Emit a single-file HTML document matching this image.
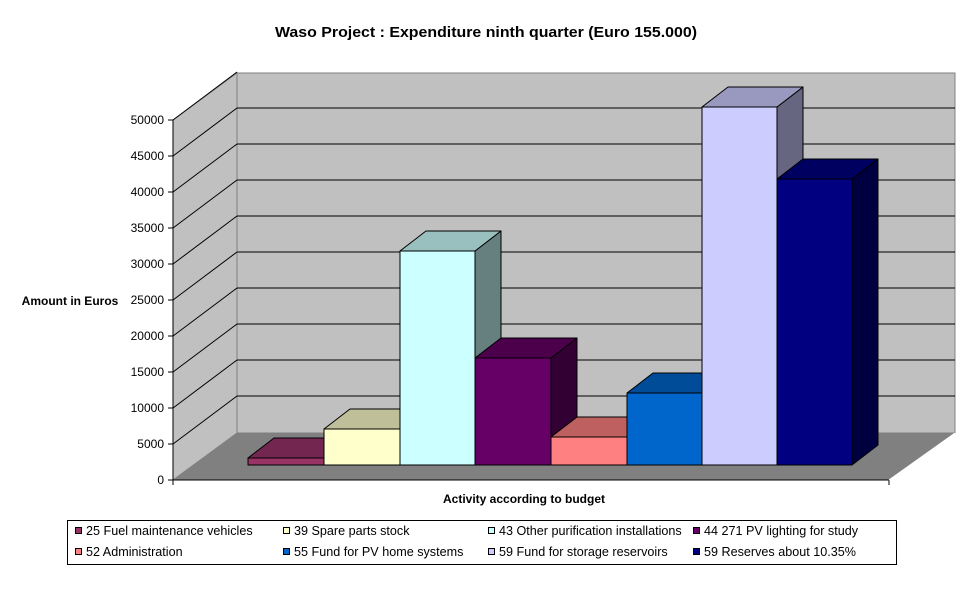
<!DOCTYPE html>
<html><head><style>body{margin:0;background:#fff}</style></head><body>
<svg width="970" height="604" xmlns="http://www.w3.org/2000/svg" font-family="Liberation Sans, Arial, sans-serif">
<rect width="970" height="604" fill="#fff"/>
<text x="486" y="37" text-anchor="middle" font-size="15" font-weight="bold" textLength="422" lengthAdjust="spacingAndGlyphs">Waso Project : Expenditure ninth quarter (Euro 155.000)</text>
<polygon points="237,73 955,73 955,433 237,433" fill="#c0c0c0" stroke="#808080"/>
<polygon points="173,120 237,73 237,433 173,480" fill="#c0c0c0" stroke="#808080"/>
<polygon points="173,480 237,433 955,433 889,480" fill="#808080"/>
<g stroke="#000" stroke-width="1">
<line x1="237" y1="108" x2="955" y2="108"/><line x1="173" y1="156" x2="237" y2="108"/>
<line x1="237" y1="144" x2="955" y2="144"/><line x1="173" y1="192" x2="237" y2="144"/>
<line x1="237" y1="180" x2="955" y2="180"/><line x1="173" y1="228" x2="237" y2="180"/>
<line x1="237" y1="216" x2="955" y2="216"/><line x1="173" y1="264" x2="237" y2="216"/>
<line x1="237" y1="252" x2="955" y2="252"/><line x1="173" y1="300" x2="237" y2="252"/>
<line x1="237" y1="288" x2="955" y2="288"/><line x1="173" y1="336" x2="237" y2="288"/>
<line x1="237" y1="324" x2="955" y2="324"/><line x1="173" y1="372" x2="237" y2="324"/>
<line x1="237" y1="360" x2="955" y2="360"/><line x1="173" y1="408" x2="237" y2="360"/>
<line x1="237" y1="396" x2="955" y2="396"/><line x1="173" y1="444" x2="237" y2="396"/>
<line x1="173" y1="120" x2="237" y2="72"/>
<line x1="173" y1="120" x2="173" y2="485"/>
<line x1="173" y1="480" x2="889" y2="480"/>
<line x1="889" y1="480" x2="889" y2="485"/>
<line x1="889" y1="480" x2="955" y2="433" stroke="#fff"/>
</g>
<g stroke="#000" stroke-width="1">
<line x1="168" y1="120" x2="173" y2="120"/><line x1="168" y1="156" x2="173" y2="156"/><line x1="168" y1="192" x2="173" y2="192"/><line x1="168" y1="228" x2="173" y2="228"/><line x1="168" y1="264" x2="173" y2="264"/><line x1="168" y1="300" x2="173" y2="300"/><line x1="168" y1="336" x2="173" y2="336"/><line x1="168" y1="372" x2="173" y2="372"/><line x1="168" y1="408" x2="173" y2="408"/><line x1="168" y1="444" x2="173" y2="444"/><line x1="168" y1="480" x2="173" y2="480"/>
</g>
<g font-size="12" text-anchor="end">
<text x="164" y="124">50000</text><text x="164" y="160">45000</text><text x="164" y="196">40000</text><text x="164" y="232">35000</text><text x="164" y="268">30000</text><text x="164" y="304">25000</text><text x="164" y="340">20000</text><text x="164" y="376">15000</text><text x="164" y="412">10000</text><text x="164" y="448">5000</text><text x="164" y="484">0</text>
</g>
<text x="70" y="305" text-anchor="middle" font-size="12" font-weight="bold">Amount in Euros</text>
<text x="524" y="503" text-anchor="middle" font-size="12" font-weight="bold">Activity according to budget</text>
<g stroke="#000" stroke-width="1" stroke-linejoin="round">
<polygon points="324,458 350,438 350,445 324,465" fill="#4c1933"/>
<polygon points="248,458 274,438 350,438 324,458" fill="#732650"/>
<rect x="248" y="458" width="76" height="7" fill="#993366"/>
<polygon points="400,429 426,409 426,445 400,465" fill="#808066"/>
<polygon points="324,429 350,409 426,409 400,429" fill="#bfbf99"/>
<rect x="324" y="429" width="76" height="36" fill="#ffffcc"/>
<polygon points="475,251 501,231 501,445 475,465" fill="#668080"/>
<polygon points="400,251 426,231 501,231 475,251" fill="#99bfbf"/>
<rect x="400" y="251" width="75" height="214" fill="#ccffff"/>
<polygon points="551,358 577,338 577,445 551,465" fill="#330033"/>
<polygon points="475,358 501,338 577,338 551,358" fill="#4c004c"/>
<rect x="475" y="358" width="76" height="107" fill="#660066"/>
<polygon points="627,437 653,417 653,445 627,465" fill="#804040"/>
<polygon points="551,437 577,417 653,417 627,437" fill="#bf6060"/>
<rect x="551" y="437" width="76" height="28" fill="#ff8080"/>
<polygon points="702,393 728,373 728,445 702,465" fill="#003366"/>
<polygon points="627,393 653,373 728,373 702,393" fill="#004c99"/>
<rect x="627" y="393" width="75" height="72" fill="#0066cc"/>
<polygon points="777,107 803,87 803,445 777,465" fill="#666680"/>
<polygon points="702,107 728,87 803,87 777,107" fill="#9999bf"/>
<rect x="702" y="107" width="75" height="358" fill="#ccccff"/>
<polygon points="852,179 878,159 878,445 852,465" fill="#000040"/>
<polygon points="777,179 803,159 878,159 852,179" fill="#000060"/>
<rect x="777" y="179" width="75" height="286" fill="#000080"/>
</g>
<rect x="67.5" y="520.5" width="829" height="44" fill="#fff" stroke="#000"/>
<g stroke="#000">
<rect x="75.5" y="527.5" width="6" height="6" fill="#993366"/>
<rect x="283.5" y="527.5" width="6" height="6" fill="#ffffcc"/>
<rect x="488.5" y="527.5" width="6" height="6" fill="#ccffff"/>
<rect x="693.5" y="527.5" width="6" height="6" fill="#660066"/>
<rect x="75.5" y="548.5" width="6" height="6" fill="#ff8080"/>
<rect x="283.5" y="548.5" width="6" height="6" fill="#0066cc"/>
<rect x="488.5" y="548.5" width="6" height="6" fill="#ccccff"/>
<rect x="693.5" y="548.5" width="6" height="6" fill="#000080"/>
</g>
<g font-size="12.6">
<text x="86" y="535">25 Fuel maintenance vehicles</text>
<text x="294" y="535">39 Spare parts stock</text>
<text x="499" y="535">43 Other purification installations</text>
<text x="704" y="535">44 271 PV lighting for study</text>
<text x="86" y="556">52 Administration</text>
<text x="294" y="556">55 Fund for PV home systems</text>
<text x="499" y="556">59 Fund for storage reservoirs</text>
<text x="704" y="556">59 Reserves about 10.35%</text>
</g>
</svg>
</body></html>
